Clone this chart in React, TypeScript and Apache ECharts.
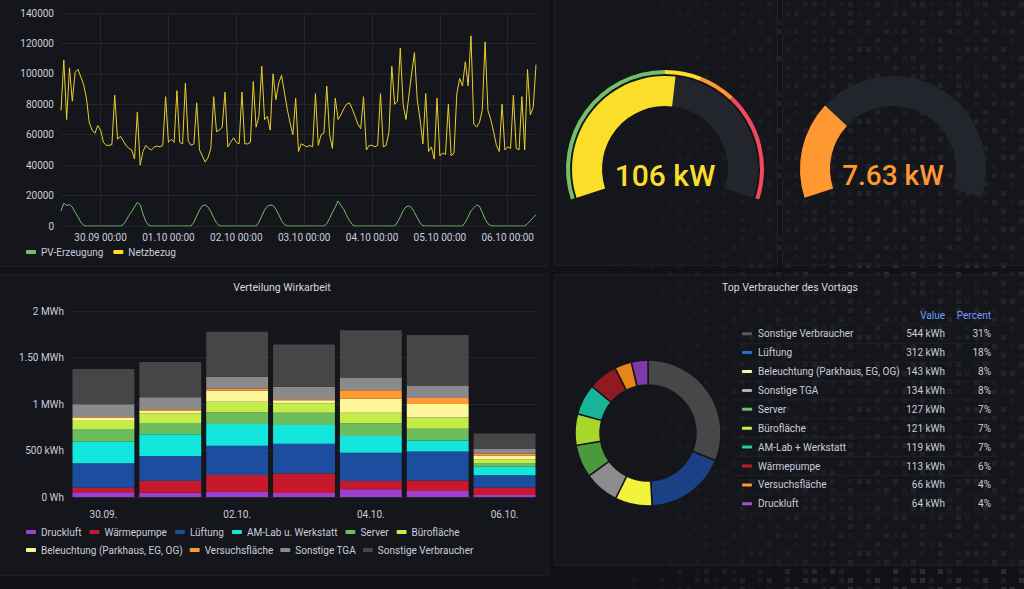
import React, { useEffect, useRef } from 'react';
import * as echarts from 'echarts';

// ---- Leistung (W), hourly samples starting 29.09 10:00 ----
const dayLabels = ['29.09', '30.09', '01.10', '02.10', '03.10', '04.10', '05.10', '06.10'];
const startHour = 10;

const netzbezug = [
  76000, 109000, 70000, 104000, 82000, 101000, 103000, 98000, 93000, 84000,
  68000, 63000, 61000, 66000, 63000, 55000, 53000, 53000, 53500, 86000,
  57000, 59000, 56000, 53000, 51000, 50000, 44000, 75000, 40000, 49000,
  53000, 51000, 50000, 52000, 52500, 52000, 53000, 85000, 55000, 57000,
  55000, 89000, 55000, 54000, 94000, 56000, 53000, 54000, 81000, 50000,
  46000, 42000, 45000, 51000, 85000, 62000, 63000, 65000, 88000, 52000,
  55000, 58000, 55000, 54000, 88000, 54000, 54000, 55000, 95000, 65000,
  72000, 105000, 70000, 72000, 63000, 100000, 83000, 94000, 99000, 88000,
  77000, 68000, 60000, 84000, 49000, 54000, 53000, 52000, 53000, 52000,
  87000, 53000, 60000, 61000, 92000, 60000, 51000, 84000, 70000, 73000,
  77000, 80000, 81000, 77000, 72000, 67000, 64000, 85000, 50000, 53000,
  53000, 52000, 53000, 87000, 52000, 53000, 62000, 105000, 80000, 82000,
  117000, 80000, 70000, 85000, 100000, 114000, 83000, 70000, 54000, 87000,
  49000, 52000, 44000, 84000, 46000, 48000, 47000, 80000, 46000, 48000,
  87000, 97000, 92000, 108000, 92000, 125000, 67000, 65000, 68000, 76000,
  121000, 76000, 70000, 62000, 53000, 49000, 80000, 50000, 52000, 51000,
  86000, 51000, 50000, 85000, 50000, 103000, 73000, 78000, 106000,
];

const pvErzeugung = [
  10000, 15000, 13500, 14000, 12500, 9000, 6000, 2500, 500,
  0, 0, 0, 0, 0, 0, 0, 0, 0, 0, 0, 0, 0,
  1000, 3500, 7000, 9500, 12500, 15500, 14000, 8000, 3000, 500,
  0, 0, 0, 0, 0, 0, 0, 0, 0, 0, 0, 0, 0, 0, 0,
  2500, 6500, 10500, 13300, 13800, 12500, 9500, 5500, 2000, 300,
  0, 0, 0, 0, 0, 0, 0, 0, 0, 0, 0, 0, 0,
  2500, 6500, 10500, 13000, 13800, 13500, 11000, 7500, 3500, 1000,
  0, 0, 0, 0, 0, 0, 0, 0, 0, 0, 0, 0, 0, 0,
  1500, 5000, 9000, 12500, 16500, 13500, 11000, 7000, 3500, 1000,
  0, 0, 0, 0, 0, 0, 0, 0, 0, 0, 0, 0, 0, 0, 0,
  2500, 6000, 10000, 12500, 13200, 12000, 9000, 5500, 2000, 300,
  0, 0, 0, 0, 0, 0, 0, 0, 0, 0, 0, 0, 0, 0,
  2500, 6000, 10000, 12000, 13800, 13000, 9000, 4500, 1500, 300,
  0, 0, 0, 0, 0, 0, 0, 0, 0, 0, 0, 0,
  1500, 3500, 5500, 7500,
];

// ---- Gauges ----
const netzbezugNow = 106; // kW
const netzMax = 200;
const netzThresholds = [100, 120, 140];
const pvNow = 7.63; // kW
const pvMax = 27;

// ---- Verteilung Wirkarbeit (kWh per day) ----
const barDays = ['30.09.', '01.10.', '02.10.', '03.10.', '04.10.', '05.10.', '06.10.'];
const energyTickLabels = ['0 Wh', '500 kWh', '1 MWh', '1.50 MWh', '2 MWh'];
const druckluft = [50, 47, 57, 43, 82, 64, 22];
const waermepumpe = [50, 129, 179, 211, 90, 113, 79];
const lueftung = [262, 265, 315, 319, 305, 312, 133];
const amLab = [233, 233, 233, 201, 179, 119, 90];
const server = [136, 122, 125, 133, 136, 127, 36];
const bueroflaeche = [97, 104, 115, 100, 115, 121, 47];
const beleuchtung = [25, 29, 118, 32, 151, 143, 36];
const versuchsflaeche = [7, 14, 22, 11, 90, 66, 25];
const sonstigeTGA = [136, 129, 129, 136, 136, 134, 47];
const sonstigeVerbraucher = [380, 380, 484, 455, 509, 544, 168];

// ---- Top Verbraucher des Vortags ----
const topNames = [
  'Sonstige Verbraucher', 'Lüftung', 'Beleuchtung (Parkhaus, EG, OG)', 'Sonstige TGA', 'Server',
  'Bürofläche', 'AM-Lab + Werkstatt', 'Wärmepumpe', 'Versuchsfläche', 'Druckluft',
];
const topValues = [544, 312, 143, 134, 127, 121, 119, 113, 66, 64];

const FONT = 'Roboto, "Noto Sans", sans-serif';
const TEXT = '#ccccdc';
const GRID_LINE = '#24262b';

const barSeriesDefs = [
  { name: 'Druckluft', data: druckluft, color: '#9d3fd0' },
  { name: 'Wärmepumpe', data: waermepumpe, color: '#c8182c' },
  { name: 'Lüftung', data: lueftung, color: '#1c4ea0' },
  { name: 'AM-Lab u. Werkstatt', data: amLab, color: '#13e6dc' },
  { name: 'Server', data: server, color: '#6cbd5e' },
  { name: 'Bürofläche', data: bueroflaeche, color: '#c4ec4a' },
  { name: 'Beleuchtung (Parkhaus, EG, OG)', data: beleuchtung, color: '#fff59a' },
  { name: 'Versuchsfläche', data: versuchsflaeche, color: '#ff9a30' },
  { name: 'Sonstige TGA', data: sonstigeTGA, color: '#8a8a8a' },
  { name: 'Sonstige Verbraucher', data: sonstigeVerbraucher, color: '#474545' },
];

const donutColors = ['#474747', '#1a4185', '#f2f23a', '#8c8c8c', '#4a9a3d', '#a5d72c', '#16b59a', '#8f1a22', '#e88418', '#7f3aa8'];
const tableMarkerColors = ['#5c5c5c', '#2b6fcf', '#f8f8a0', '#b0b0b0', '#73bf69', '#c8f050', '#20d0a8', '#c4162a', '#ff9830', '#a352cc'];

// decorative dot matrix in the background
const dotRows = [
  'ab.a.bba.ab.',
  '.a.bb..ab.ba',
  'b.a..ab.a.b.',
  'a.bab.a..ba.',
  '.b..a.bab..a',
  'ba.b..a.b.ab',
  '.ab.ab..a.b.',
  'a..b.ab.ba..',
];

function dotTileUrl(): string {
  const pitch = 9;
  let rects = '';
  dotRows.forEach((row, r) => {
    row.split('').forEach((c, col) => {
      if (c === '.') return;
      const op = c === 'a' ? 0.06 : 0.11;
      rects += `<rect x="${col * pitch + 2}" y="${r * pitch + 2}" width="5" height="5" fill="white" fill-opacity="${op}"/>`;
    });
  });
  const svg = `<svg xmlns="http://www.w3.org/2000/svg" width="${dotRows[0].length * pitch}" height="${dotRows.length * pitch}">${rects}</svg>`;
  return `data:image/svg+xml;charset=utf-8,${encodeURIComponent(svg)}`;
}

function buildOption() {
  const categories = netzbezug.map((_, i) => {
    const t = startHour + i;
    return `${dayLabels[Math.floor(t / 24)]} ${String(t % 24).padStart(2, '0')}:00`;
  });
  const isMidnight = (_: number, v: string) => v.endsWith(' 00:00');

  const total = topValues.reduce((a, b) => a + b, 0);

  const thresholdStops: [number, string][] = [
    [netzThresholds[0] / netzMax, '#73BF69'],
    [netzThresholds[1] / netzMax, '#FADE2A'],
    [netzThresholds[2] / netzMax, '#FF9830'],
    [1, '#F2495C'],
  ];

  const gaugeBase = {
    type: 'gauge',
    startAngle: 198,
    endAngle: -18,
    min: 0,
    pointer: { show: false },
    anchor: { show: false },
    axisTick: { show: false },
    splitLine: { show: false },
    axisLabel: { show: false },
    title: { show: false },
  };

  const rowY0 = 333.7;
  const rowH = 18.9;
  const tableEls: any[] = [
    { type: 'text', x: 945, y: 315, style: { text: 'Value', fill: '#6e9fff', font: `10px ${FONT}`, textAlign: 'right', textVerticalAlign: 'middle' } },
    { type: 'text', x: 991, y: 315, style: { text: 'Percent', fill: '#6e9fff', font: `10px ${FONT}`, textAlign: 'right', textVerticalAlign: 'middle' } },
  ];
  topNames.forEach((name, i) => {
    const y = rowY0 + i * rowH;
    tableEls.push(
      { type: 'line', shape: { x1: 734, y1: y - rowH / 2, x2: 997, y2: y - rowH / 2 }, style: { stroke: '#1f2126', lineWidth: 1 } },
      { type: 'rect', shape: { x: 742, y: y - 1.5, width: 10, height: 3, r: 1 }, style: { fill: tableMarkerColors[i] } },
      { type: 'text', x: 758, y, style: { text: name, fill: TEXT, font: `10px ${FONT}`, textVerticalAlign: 'middle' } },
      { type: 'text', x: 945, y, style: { text: `${topValues[i]} kWh`, fill: TEXT, font: `10px ${FONT}`, textAlign: 'right', textVerticalAlign: 'middle' } },
      { type: 'text', x: 991, y, style: { text: `${Math.round((topValues[i] / total) * 100)}%`, fill: TEXT, font: `10px ${FONT}`, textAlign: 'right', textVerticalAlign: 'middle' } },
    );
  });
  tableEls.push({ type: 'line', shape: { x1: 734, y1: rowY0 + 9.5 * rowH, x2: 997, y2: rowY0 + 9.5 * rowH }, style: { stroke: '#1f2126', lineWidth: 1 } });

  const legendCommon = {
    itemWidth: 10,
    itemHeight: 4,
    icon: 'roundRect',
    textStyle: { color: TEXT, fontSize: 10, fontFamily: FONT },
    padding: 0,
  };

  return {
    animation: false,
    backgroundColor: 'transparent',
    textStyle: { fontFamily: FONT },
    grid: [
      { left: 61, right: 488, top: 13, bottom: 363, containLabel: false, outerBoundsMode: 'none' },
      { left: 70, right: 486, top: 311, bottom: 92, containLabel: false, outerBoundsMode: 'none' },
    ],
    xAxis: [
      {
        type: 'category',
        gridIndex: 0,
        data: categories,
        boundaryGap: false,
        axisLine: { show: false },
        axisTick: { show: false },
        axisLabel: {
          interval: isMidnight,
          color: TEXT,
          fontSize: 10,
          margin: 6,
          formatter: (v: string) => v,
        },
        splitLine: { show: true, interval: isMidnight, lineStyle: { color: GRID_LINE, width: 1 } },
      },
      {
        type: 'category',
        gridIndex: 1,
        data: barDays,
        axisLine: { show: false },
        axisTick: { show: false },
        axisLabel: { interval: 1, color: TEXT, fontSize: 10, margin: 12 },
        splitLine: { show: false },
      },
    ],
    yAxis: [
      {
        type: 'value',
        gridIndex: 0,
        min: 0,
        max: 140000,
        interval: 20000,
        axisLine: { show: false },
        axisTick: { show: false },
        axisLabel: { color: TEXT, fontSize: 10, margin: 7, formatter: (v: number) => String(v) },
        splitLine: { lineStyle: { color: GRID_LINE, width: 1 } },
      },
      {
        type: 'value',
        gridIndex: 1,
        min: 0,
        max: 2000,
        interval: 500,
        axisLine: { show: false },
        axisTick: { show: false },
        axisLabel: {
          color: TEXT,
          fontSize: 10,
          margin: 6,
          formatter: (v: number) => energyTickLabels[Math.round(v / 500)],
        },
        splitLine: { lineStyle: { color: GRID_LINE, width: 1 } },
      },
    ],
    legend: [
      {
        ...legendCommon,
        left: 26,
        top: 247,
        itemGap: 10,
        data: ['PV-Erzeugung', 'Netzbezug'],
      },
      {
        ...legendCommon,
        left: 26,
        top: 527,
        itemGap: 8,
        data: barSeriesDefs.slice(0, 6).map((s) => s.name),
      },
      {
        ...legendCommon,
        left: 26,
        top: 545,
        itemGap: 7,
        data: barSeriesDefs.slice(6).map((s) => s.name),
      },
    ],
    graphic: {
      elements: [
        { type: 'text', x: 282, y: 287, style: { text: 'Verteilung Wirkarbeit', fill: '#d8d9da', font: `10.5px ${FONT}`, textAlign: 'center', textVerticalAlign: 'middle' } },
        { type: 'text', x: 790, y: 287, style: { text: 'Top Verbraucher des Vortags', fill: '#d8d9da', font: `10.5px ${FONT}`, textAlign: 'center', textVerticalAlign: 'middle' } },
        ...tableEls,
      ],
    },
    series: [
      {
        name: 'PV-Erzeugung',
        type: 'line',
        xAxisIndex: 0,
        yAxisIndex: 0,
        data: pvErzeugung,
        showSymbol: false,
        color: '#73BF69',
        lineStyle: { width: 1, color: '#73BF69' },
      },
      {
        name: 'Netzbezug',
        type: 'line',
        xAxisIndex: 0,
        yAxisIndex: 0,
        data: netzbezug,
        showSymbol: false,
        color: '#FADE2A',
        lineStyle: { width: 1, color: '#E8CF2E' },
      },
      ...barSeriesDefs.map((s) => ({
        name: s.name,
        type: 'bar',
        xAxisIndex: 1,
        yAxisIndex: 1,
        stack: 'energie',
        barCategoryGap: '7.5%',
        data: s.data,
        color: s.color,
        itemStyle: { color: s.color },
      })),
      {
        ...gaugeBase,
        center: [665, 169],
        radius: 99,
        max: netzMax,
        axisLine: { lineStyle: { width: 4, color: thresholdStops } },
        progress: { show: false },
        detail: { show: false },
        data: [{ value: netzbezugNow }],
      },
      {
        ...gaugeBase,
        center: [665, 169],
        radius: 93,
        max: netzMax,
        axisLine: { lineStyle: { width: 30, color: [[1, '#22252b']] } },
        progress: { show: true, width: 30, itemStyle: { color: '#FADE2A' } },
        detail: {
          offsetCenter: [0, 6],
          fontSize: 30,
          fontWeight: 500,
          fontFamily: FONT,
          color: '#FADE2A',
          formatter: (v: number) => `${v} kW`,
        },
        data: [{ value: netzbezugNow }],
      },
      {
        ...gaugeBase,
        center: [893, 169],
        radius: 93,
        max: pvMax,
        axisLine: { lineStyle: { width: 30, color: [[1, '#22252b']] } },
        progress: { show: true, width: 30, itemStyle: { color: '#FF9830' } },
        detail: {
          offsetCenter: [0, 6],
          fontSize: 28,
          fontWeight: 500,
          fontFamily: FONT,
          color: '#FF9830',
          formatter: (v: number) => `${v.toFixed(2)} kW`,
        },
        data: [{ value: pvNow }],
      },
      {
        name: 'Top Verbraucher',
        type: 'pie',
        center: [648, 433],
        radius: [48, 73],
        startAngle: 90,
        clockwise: true,
        label: { show: false },
        labelLine: { show: false },
        itemStyle: { borderColor: '#15161b', borderWidth: 1.5 },
        emphasis: { disabled: true },
        data: topNames.map((n, i) => ({ name: n, value: topValues[i], itemStyle: { color: donutColors[i] } })),
      },
    ],
  };
}

const panelStyle = (left: number, top: number, width: number, height: number): React.CSSProperties => ({
  position: 'absolute',
  left,
  top,
  width,
  height,
  boxSizing: 'border-box',
  background: 'rgba(24,26,31,0.5)',
  border: '1px solid #1e2025',
  borderRadius: 2,
});

export default function App() {
  const ref = useRef<HTMLDivElement>(null);

  useEffect(() => {
    document.body.style.margin = '0';
    const chart = echarts.init(ref.current!, null, { renderer: 'svg' });
    chart.setOption(buildOption() as any);
    return () => chart.dispose();
  }, []);

  const mask = 'linear-gradient(to right, transparent 0%, transparent 56%, black 84%)';

  return (
    <div style={{ position: 'fixed', left: 0, top: 0, width: 1024, height: 589, background: '#111216', overflow: 'hidden' }}>
      <div
        style={{
          position: 'absolute',
          inset: 0,
          backgroundImage: `url("${dotTileUrl()}")`,
          WebkitMaskImage: mask,
          maskImage: mask,
        }}
      />
      <div style={panelStyle(-2, -2, 551, 269)} />
      <div style={panelStyle(554, -2, 224, 268)} />
      <div style={panelStyle(782, -2, 244, 268)} />
      <div style={panelStyle(-2, 274, 551, 302)} />
      <div style={panelStyle(554, 274, 472, 292)} />
      <div ref={ref} style={{ position: 'absolute', left: 0, top: 0, width: 1024, height: 589 }} />
    </div>
  );
}
